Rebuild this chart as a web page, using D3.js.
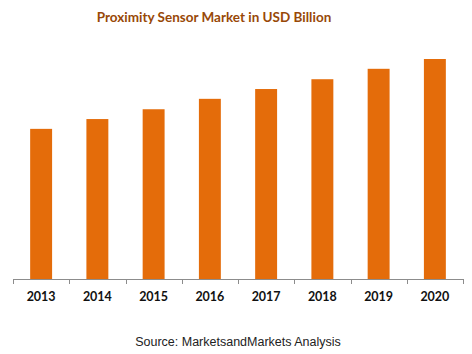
<!DOCTYPE html>
<html>
<head>
<meta charset="utf-8">
<script src="https://cdn.jsdelivr.net/npm/d3@7"></script>
<style>
  body { margin: 0; background: #fff; }
</style>
</head>
<body>
<div id="chart"></div>
<script>
    let years = ["2013", "2014", "2015", "2016", "2017", "2018", "2019", "2020"];
    let marketValues = [2.45, 2.61, 2.77, 2.94, 3.10, 3.26, 3.43, 3.59]; // USD Billion
    let titleText = "Proximity Sensor Market in USD Billion";
    let sourceText = "Source: MarketsandMarkets Analysis";

    let width = 472, height = 354;
    let margin = {top: 59, right: 9, bottom: 75, left: 13};
    let plotW = width - margin.left - margin.right,
        plotH = height - margin.top - margin.bottom;

    let svg = d3.select("#chart")
      .append("svg")
        .attr("width", width)
        .attr("height", height);

    let g = svg.append("g")
        .attr("transform", "translate(" + margin.left + "," + margin.top + ")");

    let x = d3.scaleBand()
        .domain(years)
        .range([0, plotW])
        .paddingInner(0.61)
        .paddingOuter(0.305);

    let y = d3.scaleLinear()
        .domain([0, d3.max(marketValues)])
        .range([plotH, 0]);

    // bars
    g.selectAll("rect")
        .data(marketValues)
        .enter()
        .append("rect")
        .attr("x", (d, i) => x(years[i]))
        .attr("y", d => y(d))
        .attr("width", x.bandwidth())
        .attr("height", d => plotH - y(d))
        .attr("fill", "#E46C0A");

    // x axis: line plus ticks at category boundaries
    let gap = (x.step() - x.bandwidth()) / 2;
    let boundaries = years.map(d => x(d) - gap).concat([plotW]);

    let axis = g.append("g")
        .attr("transform", "translate(0," + plotH + ")");

    axis.append("line")
        .attr("x1", 0)
        .attr("x2", plotW)
        .attr("y1", 0.5)
        .attr("y2", 0.5)
        .attr("stroke", "#8c8c8c");

    axis.selectAll(".tick")
        .data(boundaries)
        .enter()
        .append("line")
        .attr("class", "tick")
        .attr("x1", d => Math.round(d) + 0.5)
        .attr("x2", d => Math.round(d) + 0.5)
        .attr("y1", 0)
        .attr("y2", 5)
        .attr("stroke", "#8c8c8c");

    axis.selectAll(".label")
        .data(years)
        .enter()
        .append("text")
        .attr("class", "label")
        .attr("x", d => x(d) + x.bandwidth() / 2)
        .attr("y", 22)
        .attr("text-anchor", "middle")
        .attr("font-family", "Lato, 'Open Sans', sans-serif")
        .attr("font-weight", "bold")
        .attr("font-size", "12.5px")
        .attr("fill", "#111")
        .text(d => d);

    // title
    svg.append("text")
        .attr("x", 214)
        .attr("y", 22)
        .attr("text-anchor", "middle")
        .attr("font-family", "Lato, 'Open Sans', sans-serif")
        .attr("font-weight", "bold")
        .attr("font-size", "13.5px")
        .attr("fill", "#984807")
        .text(titleText);

    // source note
    svg.append("text")
        .attr("x", 238)
        .attr("y", 346)
        .attr("text-anchor", "middle")
        .attr("font-family", "'Liberation Sans', Arial, sans-serif")
        .attr("font-size", "12.5px")
        .attr("fill", "#222")
        .text(sourceText);
</script>
</body>
</html>
